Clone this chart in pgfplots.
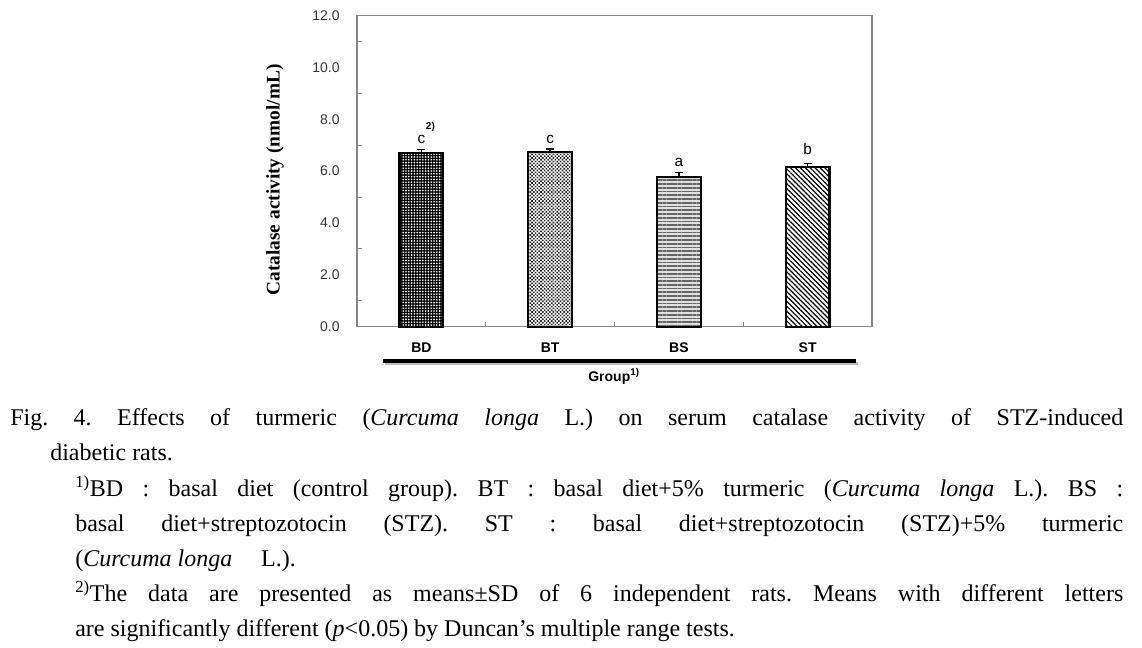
\documentclass[border=0pt]{standalone}
\usepackage{fontspec}
\setmainfont{Liberation Serif}
\setsansfont{Liberation Sans}
\usepackage{pgfplots}
\pgfplotsset{compat=1.18}
\usetikzlibrary{patterns,patterns.meta}
\definecolor{axgray}{HTML}{868686}
\definecolor{ticktext}{HTML}{333333}
\frenchspacing

\newcommand\capfont{\fontsize{18}{21}\selectfont}
% one caption line: position (px), width (pt), text
\newcommand\capline[3]{\node[anchor=base west, inner sep=0pt, font=\capfont] at (#1) {\makebox[#2][s]{#3}};}

\pgfplotsset{
  catbar/.style={ybar, bar width=0.34, bar shift=0pt},
  errs/.style={error bars/.cd, y dir=plus, y explicit,
    error bar style={black, line width=1pt},
    error mark options={rotate=90, mark size=3pt, black, line width=1pt}},
}

\begin{document}
\begin{tikzpicture}
\begin{scope}[x=0.75pt,y=-0.75pt]
\path (0,0) rectangle (1142,647);
\end{scope}

\begin{axis}[
  at={(267.75pt,-245pt)}, anchor=south west,
  scale only axis, width=386.25pt, height=233.25pt,
  xmin=-0.5, xmax=3.5, ymin=0, ymax=12,
  axis line style={axgray, line width=0.9pt},
  xtick={0,1,2,3}, xticklabels={BD,BT,BS,ST},
  minor xtick={0.5,1.5,2.5},
  ytick={0,2,...,12},
  minor ytick={1,3,...,11},
  xtick pos=bottom, ytick pos=left,
  major tick length=0pt,
  minor tick length=3.5pt,
  minor tick style={axgray, line width=0.8pt},
  tick align=inside,
  /pgf/number format/assume math mode=true,
  yticklabel style={/pgf/number format/.cd, fixed, fixed zerofill, precision=1, /tikz/.cd,
    font=\sffamily\fontsize{10.5}{12}\selectfont, text=ticktext, xshift=-9.5pt},
  xticklabel style={font=\sffamily\bfseries\fontsize{10.5}{12}\selectfont, yshift=-8.5pt},
  ylabel={\textbf{Catalase activity (nmol/mL)}},
  ylabel style={font=\fontsize{14.5}{16}\selectfont, at={(axis description cs:-0.159,0.472)}, anchor=center},
  clip=false,
]
% BD
\addplot[catbar, draw=none, fill=black] coordinates {(0,6.71)};
\addplot[catbar, draw=none, pattern={Dots[distance=2.1pt,radius=0.7pt]}, pattern color=white] coordinates {(0,6.71)};
\addplot[catbar, draw=black, line width=1.6pt, fill=none, errs] coordinates {(0,6.71) +- (0,0.13)};
% BT
\addplot[catbar, draw=none, pattern={Dots[distance=1.9pt,radius=0.85pt,angle=45]}, pattern color=black!85] coordinates {(1,6.75)};
\addplot[catbar, draw=black, line width=1.6pt, fill=none, errs] coordinates {(1,6.75) +- (0,0.11)};
% BS
\addplot[catbar, draw=none, fill=black!12] coordinates {(2,5.76)};
\addplot[catbar, draw=none, pattern={Lines[angle=0,distance=2.8pt,line width=1.3pt]}, pattern color=black!60] coordinates {(2,5.76)};
\addplot[catbar, draw=black, line width=1.6pt, fill=none, errs] coordinates {(2,5.76) +- (0,0.19)};
% ST
\addplot[catbar, draw=none, pattern={Lines[angle=-45,distance=2.6pt,line width=0.9pt]}, pattern color=black] coordinates {(3,6.17)};
\addplot[catbar, draw=black, line width=1.6pt, fill=none, errs] coordinates {(3,6.17) +- (0,0.13)};

\node[font=\sffamily\fontsize{11.5}{12}\selectfont] at (axis cs:0,7.24) {c};
\node[font=\sffamily\bfseries\fontsize{7.5}{9}\selectfont] at (axis cs:0.07,7.70) {2)};
\node[font=\sffamily\fontsize{11.5}{12}\selectfont] at (axis cs:1,7.24) {c};
\node[font=\sffamily\fontsize{11.5}{12}\selectfont] at (axis cs:2,6.35) {a};
\node[font=\sffamily\fontsize{11.5}{12}\selectfont] at (axis cs:3,6.85) {b};
\end{axis}

\begin{scope}[x=0.75pt,y=-0.75pt]
\draw[black!25, line width=2pt] (385,363.5) -- (858,363.5);
\draw[black, line width=3pt] (383,361) -- (856,361);
\node[anchor=base, font=\sffamily\bfseries\fontsize{10.5}{12}\selectfont] at (614,381) {Group\textsuperscript{1)}};

\capline{10,425}{834.75pt}{Fig. 4. Effects of turmeric (\textit{Curcuma longa} L.) on serum catalase activity of STZ-induced}
\node[anchor=base west, inner sep=0pt, font=\capfont] at (50,460) {diabetic rats.};
\capline{75,496}{786pt}{\textsuperscript{1)}BD : basal diet (control group). BT : basal diet+5\% turmeric (\textit{Curcuma longa} L.). BS :}
\capline{75,531}{786pt}{basal diet+streptozotocin (STZ). ST : basal diet+streptozotocin (STZ)+5\% turmeric}
\node[anchor=base west, inner sep=0pt, font=\capfont] at (75,566) {(\textit{Curcuma longa}\hspace{1.2em}L.).};
\capline{75,601}{786pt}{\textsuperscript{2)}The data are presented as means±SD of 6 independent rats. Means with different letters}
\node[anchor=base west, inner sep=0pt, font=\capfont] at (75,636) {are significantly different (\textit{p}<0.05) by Duncan’s multiple range tests.};
\end{scope}
\end{tikzpicture}
\end{document}
